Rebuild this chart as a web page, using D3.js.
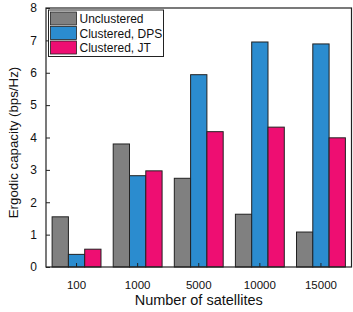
<!DOCTYPE html>
<html>
<head>
<meta charset="utf-8">
<script src="https://cdn.jsdelivr.net/npm/d3@7"></script>
<style>
	body { margin: 0; background: #fff; }
	svg { font-family: "Liberation Sans", Arial, sans-serif; }
</style>
</head>
<body>
<svg id="chart" width="353" height="312"></svg>
<script>
	var categories = ["100", "1000", "5000", "10000", "15000"];
	var seriesNames = ["Unclustered", "Clustered, DPS", "Clustered, JT"];
	var unclustered = [1.55, 3.80, 2.74, 1.63, 1.08];
	var dps = [0.39, 2.82, 5.94, 6.95, 6.89];
	var jt = [0.55, 2.97, 4.18, 4.32, 3.99];
	var yTicks = [0, 1, 2, 3, 4, 5, 6, 7, 8];

	var colors = ["#808080", "#2b8ccf", "#ee0e72"];
	var series = [unclustered, dps, jt];

	var margin = {left: 46, right: 1.5, top: 8, bottom: 45},
		width = 353 - margin.left - margin.right,
		height = 312 - margin.top - margin.bottom;

	var svg = d3.select("#chart");
	var g = svg.append("g")
		.attr("transform", "translate(" + margin.left + "," + margin.top + ")");

	var x = d3.scaleBand().domain(categories).range([0, width]).paddingInner(0.2).paddingOuter(0.1);
	var xs = d3.scaleBand().domain(d3.range(3)).range([0, x.bandwidth()]);
	var y = d3.scaleLinear().domain([0, 8]).range([height, 0]);

	// bars
	series.forEach(function(vals, s){
		g.selectAll(".bar" + s)
			.data(vals)
			.enter().append("rect")
				.attr("x", function(d, i){ return x(categories[i]) + xs(s); })
				.attr("y", function(d){ return y(d); })
				.attr("width", xs.bandwidth())
				.attr("height", function(d){ return height - y(d); })
				.attr("fill", colors[s])
				.attr("stroke", "#222")
				.attr("stroke-width", 1);
	});

	// frame
	g.append("rect")
		.attr("width", width).attr("height", height)
		.attr("fill", "none").attr("stroke", "#222").attr("stroke-width", 1.2);

	// y axis
	var yAxis = d3.axisLeft(y).tickValues(yTicks).tickSize(-4).tickPadding(9);
	g.append("g").call(yAxis)
		.call(function(a){ a.select(".domain").remove(); })
		.selectAll("text").attr("font-size", 12).attr("fill", "#111")
		.attr("font-family", "'Liberation Sans', Arial, sans-serif");

	// x axis
	var xAxis = d3.axisBottom(x).tickSize(-4).tickPadding(14);
	g.append("g").attr("transform", "translate(0," + height + ")").call(xAxis)
		.call(function(a){ a.select(".domain").remove(); })
		.selectAll("text").attr("font-size", 11.5).attr("fill", "#111")
		.attr("font-family", "'Liberation Sans', Arial, sans-serif");

	g.selectAll(".tick line").attr("stroke", "#222");

	// axis titles
	svg.append("text")
		.attr("x", margin.left + width / 2).attr("y", 305)
		.attr("text-anchor", "middle").attr("font-size", 14.5).attr("fill", "#111")
		.text("Number of satellites");

	svg.append("text")
		.attr("transform", "translate(18," + (margin.top + height / 2 + 5) + ") rotate(-90)")
		.attr("text-anchor", "middle").attr("font-size", 13.3).attr("fill", "#111")
		.text("Ergodic capacity (bps/Hz)");

	// legend
	var legend = g.append("g").attr("transform", "translate(2.5,2)");
	legend.append("rect")
		.attr("width", 115).attr("height", 46.5)
		.attr("fill", "#fff").attr("stroke", "#222").attr("stroke-width", 1);
	seriesNames.forEach(function(name, i){
		legend.append("rect")
			.attr("x", 2).attr("y", 2 + i * 14.5)
			.attr("width", 26).attr("height", 13)
			.attr("fill", colors[i]).attr("stroke", "#222").attr("stroke-width", 0.8);
		legend.append("text")
			.attr("x", 31).attr("y", 13 + i * 14.5)
			.attr("font-size", 12).attr("fill", "#111")
			.text(name);
	});
</script>
</body>
</html>
